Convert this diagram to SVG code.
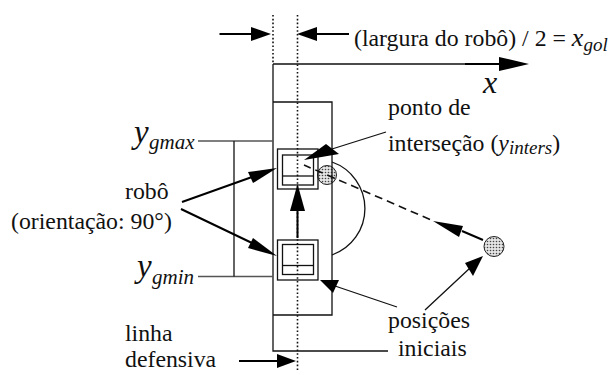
<svg xmlns="http://www.w3.org/2000/svg" width="613" height="372" viewBox="0 0 613 372">
<style>
text{font-family:"Liberation Serif","Times New Roman",serif;font-size:23.8px;fill:#111}
.i{font-style:italic}
.big{font-size:33px}
.m{font-size:26px}
.xb{font-size:32px}
.s{font-size:19px}
.s2{font-size:21px}
.l{fill:none;stroke:#111;stroke-width:1.3}
.g{fill:none;stroke:#555;stroke-width:1.3}
.b{fill:none;stroke:#000;stroke-width:2}
.h{fill:#000;stroke:none}
.d{fill:none;stroke:#111;stroke-width:1.6;stroke-dasharray:1.6 2.2}
.ball{fill:url(#dots);stroke:#222;stroke-width:1}
</style>
<defs>
<pattern id="dots" width="3" height="3" patternUnits="userSpaceOnUse"><rect width="3" height="3" fill="#e4e4e4"/><circle cx="1.5" cy="1.5" r="0.8" fill="#444"/></pattern>
</defs>
<rect width="613" height="372" fill="#fff"/>
<g id="ball-intersect"><circle class="ball" cx="327" cy="175" r="9.500"/></g>
<g id="ball-start"><circle class="ball" cx="494" cy="246.500" r="10"/></g>
<g id="robot-top">
<rect class="l" x="277.500" y="149" width="40.500" height="40"/>
<rect class="l" x="282.500" y="155" width="31" height="30"/>
<path class="l" d="M282.500 176H313.500"/>
</g>
<g id="robot-bottom">
<rect class="l" x="277.500" y="240" width="40.500" height="40"/>
<rect class="l" x="282.500" y="244.500" width="31" height="30"/>
<path class="l" d="M282.500 265.500H313.500"/>
</g>
<g id="connectors">
<path class="d" d="M273 15V64M297.500 15V372"/>
<path class="l" d="M273 64H500M273 64V351H388M273 102H332V315H273"/>
<path class="g" d="M198 141H273M198 276.500H273"/>
<path class="l" d="M234 141V276.500"/>
<path class="l" d="M332 162A49.300 49.300 0 0 1 332 255"/>
<path class="b" d="M219.500 34H252M349 34H317M239 361H278M465 64H500"/>
<polygon class="h" points="271,34 251,27 251,41"/>
<polygon class="h" points="297,34 317,27 317,41"/>
<polygon class="h" points="296,361 277,354 277,368"/>
<polygon class="h" points="529,64 499,57 499,71"/>
<path class="b" d="M182 202L252 177M181 209L252 243M297.500 238V210M483 240L462 231"/>
<polygon class="h" points="277,168 248,172 253,183"/>
<polygon class="h" points="277,256 253,238 248,248"/>
<polygon class="h" points="297.500,184 290,211 305,211"/>
<polygon class="h" points="433,221 463,226 459,237"/>
<path class="l" style="stroke-dasharray:8 5;stroke-width:1.6" d="M430 219.500L304 165"/>
<path class="l" d="M386 132L332 149M397 307L335 286M425 310L470 268"/>
<polygon class="h" points="304,160 326,144 339,154"/>
<polygon class="h" points="320,280 339,280 333,293"/>
<polygon class="h" points="483,256 465,263 473,276"/>
</g>
<g id="labels">
<text x="354" y="46">(largura do robô) / 2 = <tspan class="i m">x</tspan><tspan class="i s" dy="5">gol</tspan></text>
<text class="i xb" x="483" y="93">x</text>
<text x="388" y="115">ponto de</text>
<text x="388" y="151">interseção (<tspan class="i">y</tspan><tspan class="i s" dy="3">inters</tspan><tspan dy="-3">)</tspan></text>
<text class="i big" x="134" y="143">y</text><text class="i s2" x="149" y="149">gmax</text>
<text class="i big" x="137" y="277">y</text><text class="i s2" x="152" y="284">gmin</text>
<text x="125" y="199">robô</text>
<text x="11" y="229">(orientação: 90°)</text>
<text x="388" y="328">posições</text>
<text x="398" y="356">iniciais</text>
<text x="125" y="341">linha</text>
<text x="125" y="366.500">defensiva</text>
</g>
</svg>
